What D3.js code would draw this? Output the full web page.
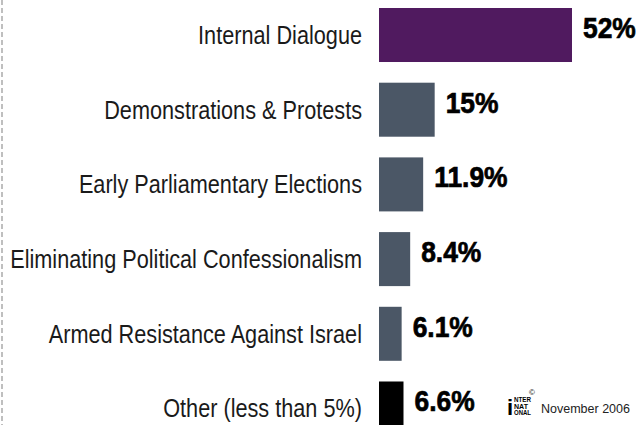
<!DOCTYPE html>
<html>
  <head>
    <meta charset="UTF-8" />
    <script src="https://cdnjs.cloudflare.com/ajax/libs/d3/7.8.5/d3.min.js"></script>
    <style>
      body { margin: 0; background: #fff; }
      text.cat {
        font-family: "Liberation Sans", Arial, sans-serif;
        font-size: 25px;
        fill: #1a1a1a;
      }
      text.val {
        font-family: "Liberation Sans", Arial, sans-serif;
        font-weight: bold;
        font-size: 30px;
        fill: #000;
        stroke: #000;
        stroke-width: 0.7;
      }
      text.credit {
        font-family: "Liberation Sans", Arial, sans-serif;
        font-size: 12.5px;
        fill: #222;
      }
      line.edge {
        stroke: #aaa;
        stroke-width: 1.5;
        stroke-dasharray: 5 3;
      }
    </style>
  </head>
  <body>
    <svg id="viz" width="639" height="425"></svg>
    <script>
      var categories = [
        "Internal Dialogue",
        "Demonstrations & Protests",
        "Early Parliamentary Elections",
        "Eliminating Political Confessionalism",
        "Armed Resistance Against Israel",
        "Other (less than 5%)"
      ];
      var values = [52, 15, 11.9, 8.4, 6.1, 6.6];
      var valueLabels = ["52%", "15%", "11.9%", "8.4%", "6.1%", "6.6%"];
      var barColors = ["#501a5f", "#4b5766", "#4b5766", "#4b5766", "#4b5766", "#000000"];

      var svg = d3.select("#viz");

      var x = d3.scaleLinear().domain([0, 52]).range([379, 572]);
      var y = d3.scaleBand().domain(categories).range([8, 435.5]).paddingInner(0.277).paddingOuter(0);

      svg.append("line")
        .attr("class", "edge")
        .attr("x1", 2).attr("x2", 2)
        .attr("y1", 0).attr("y2", 425);

      svg.selectAll("rect.bar")
        .data(categories)
        .enter()
        .append("rect")
        .attr("class", "bar")
        .attr("x", x(0))
        .attr("y", d => y(d))
        .attr("width", (d, i) => x(values[i]) - x(0))
        .attr("height", y.bandwidth())
        .attr("fill", (d, i) => barColors[i]);

      // category labels: squeeze horizontally to look like a condensed face
      var cats = svg.selectAll("text.cat")
        .data(categories)
        .enter()
        .append("text")
        .attr("class", "cat")
        .attr("text-anchor", "end")
        .text(d => d);

      var longest = d3.max(cats.nodes(), n => n.getComputedTextLength());
      var kCat = 352 / longest;
      cats.attr("transform", d => "translate(362," + (y(d) + y.bandwidth() / 2 + 9) + ") scale(" + kCat + ",1)");

      svg.selectAll("text.val")
        .data(categories)
        .enter()
        .append("text")
        .attr("class", "val")
        .attr("transform", (d, i) => "translate(" + (x(values[i]) + 11) + "," + (y(d) + y.bandwidth() / 2 + 3) + ") scale(0.88,1)")
        .text((d, i) => valueLabels[i]);

      // small logo + date
      var logo = svg.append("g").attr("transform", "translate(507,415)");
      logo.append("text")
        .attr("x", 0).attr("y", 0)
        .attr("font-family", "Liberation Sans, sans-serif")
        .attr("font-weight", "bold")
        .attr("font-size", 22)
        .text("i");
      ["NTER", "NAT", "ONAL"].forEach(function (t, i) {
        logo.append("text")
          .attr("x", 7)
          .attr("y", -13 + i * 6.5)
          .attr("font-family", "Liberation Sans, sans-serif")
          .attr("font-weight", "bold")
          .attr("font-size", 7)
          .attr("textLength", i == 1 ? 14 : 17)
          .attr("lengthAdjust", "spacingAndGlyphs")
          .text(t);
      });
      logo.append("text").attr("x", 22).attr("y", -20).attr("font-size", 8)
        .attr("font-family", "Liberation Sans, sans-serif").text("\u00a9");

      svg.append("text")
        .attr("class", "credit")
        .attr("x", 541)
        .attr("y", 413)
        .text("November 2006");
    </script>
  </body>
</html>
